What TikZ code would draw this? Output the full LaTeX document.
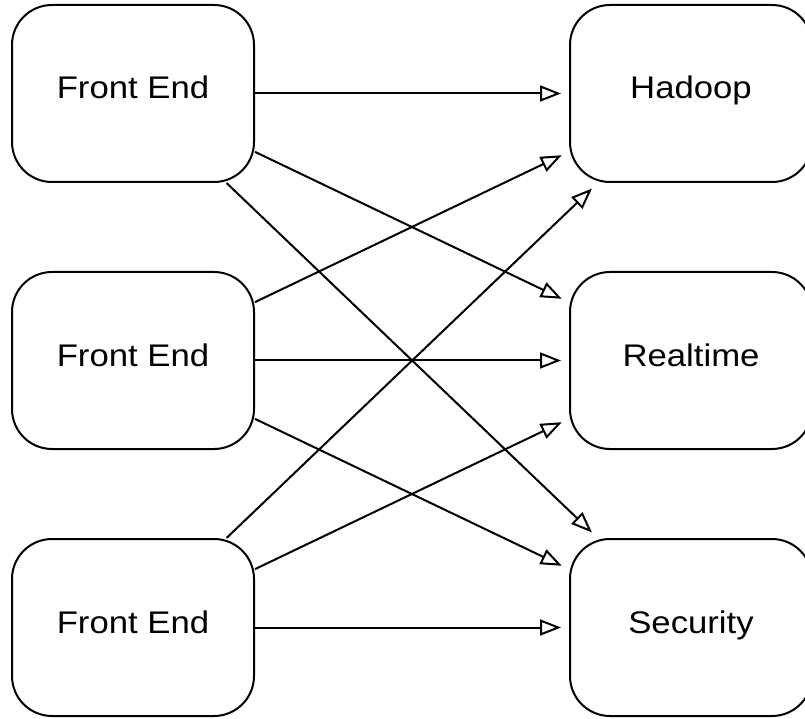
\documentclass[tikz,border=0pt]{standalone}
\usepackage{fontspec}
\setmainfont{Liberation Sans}[FakeStretch=1.11]
\usetikzlibrary{arrows.meta}
\tikzset{
    box/.style={rectangle, draw, rounded corners=0.8cm, line width=0.04cm,
        minimum width=4.84cm, minimum height=3.54cm,
        text height=0.44cm, text depth=0.22cm,
        font=\fontsize{17.8}{21}\selectfont},
    link/.style={-{Triangle[open,length=0.42cm,width=0.32cm]}, line width=0.04cm,
        shorten >=0.16cm},
}
\begin{document}
\begin{tikzpicture}
\useasboundingbox (0,0) rectangle (16.1,-14.38);
\begin{scope}
\clip (0,0) rectangle (16.1,-14.38);
\node[box] (fe1) at (2.66,-1.87) {Front End};
\node[box] (fe2) at (2.66,-7.21) {Front End};
\node[box] (fe3) at (2.66,-12.55) {Front End};

\node[box] (hd) at (13.82,-1.87) {Hadoop};
\node[box] (rt) at (13.82,-7.21) {Realtime};
\node[box] (sec) at (13.82,-12.55) {Security};

\draw[link] (fe1)--(hd);
\draw[link] (fe1)--(rt);
\draw[link] (fe1)--(sec);
\draw[link] (fe2)--(hd);
\draw[link] (fe2)--(rt);
\draw[link] (fe2)--(sec);
\draw[link] (fe3)--(hd);
\draw[link] (fe3)--(rt);
\draw[link] (fe3)--(sec);
\end{scope}
\end{tikzpicture}
\end{document}
